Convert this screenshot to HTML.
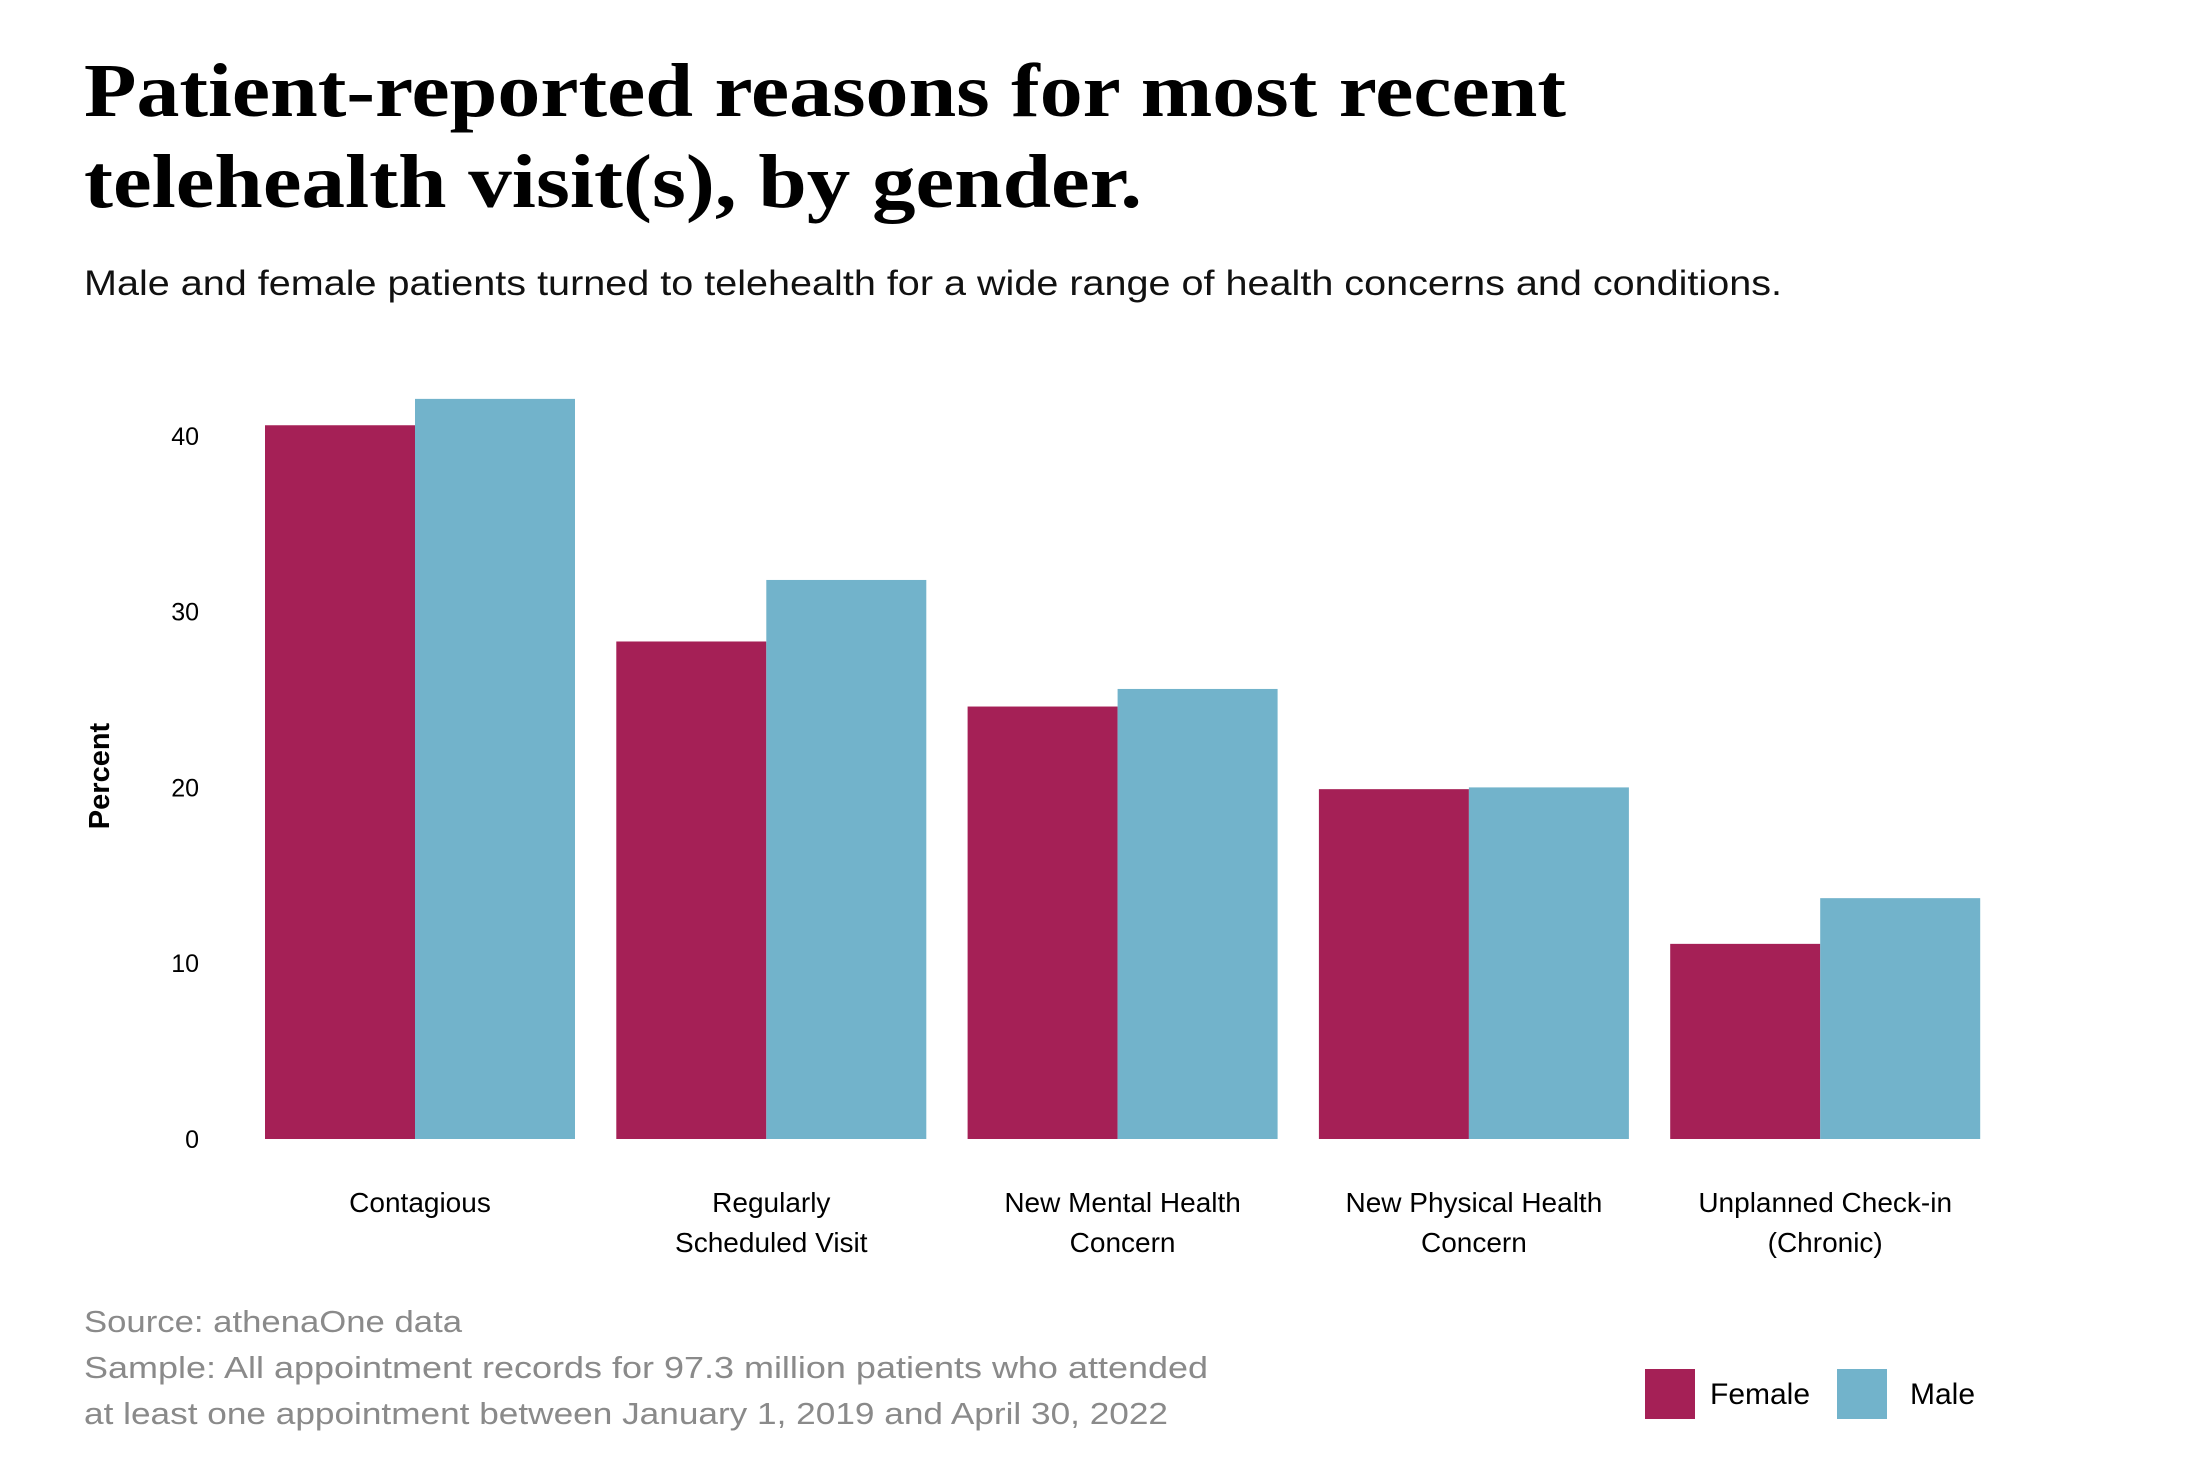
<!DOCTYPE html>
<html><head><meta charset="utf-8"><style>
body{margin:0;background:#fff}
svg{display:block}
</style></head><body>
<svg width="2209" height="1465" viewBox="0 0 2209 1465" xmlns="http://www.w3.org/2000/svg">
<text font-family="Liberation Serif, serif" font-weight="bold" font-size="76" fill="#000">
<tspan x="84" y="116" textLength="1482" lengthAdjust="spacingAndGlyphs">Patient-reported reasons for most recent</tspan>
<tspan x="84" y="207" textLength="1058" lengthAdjust="spacingAndGlyphs">telehealth visit(s), by gender.</tspan></text>
<text x="84" y="295" font-family="Liberation Sans, sans-serif" font-size="35" fill="#111" textLength="1698" lengthAdjust="spacingAndGlyphs">Male and female patients turned to telehealth for a wide range of health concerns and conditions.</text>
<text transform="translate(109,776) rotate(-90)" text-anchor="middle" font-family="Liberation Sans, sans-serif" font-weight="bold" font-size="29" fill="#000">Percent</text>
<g id="yticks"></g>
<g id="bars"></g>
<g id="xlabels"></g>
<g font-family="Liberation Sans, sans-serif" font-size="31" fill="#8a8a8a">
<text x="84" y="1332" textLength="378" lengthAdjust="spacingAndGlyphs">Source: athenaOne data</text>
<text x="84" y="1378" textLength="1124" lengthAdjust="spacingAndGlyphs">Sample: All appointment records for 97.3 million patients who attended</text>
<text x="84" y="1424" textLength="1084" lengthAdjust="spacingAndGlyphs">at least one appointment between January 1, 2019 and April 30, 2022</text>
</g>
<g>
<rect x="1645" y="1369" width="50" height="50" fill="#a52056"/>
<text x="1710" y="1404" font-family="Liberation Sans, sans-serif" font-size="30" fill="#000">Female</text>
<rect x="1837" y="1369" width="50" height="50" fill="#72b3cb"/>
<text x="1910" y="1404" font-family="Liberation Sans, sans-serif" font-size="30" fill="#000">Male</text>
</g>
</svg>
<script>
const categories=[["Contagious"],["Regularly","Scheduled Visit"],["New Mental Health","Concern"],["New Physical Health","Concern"],["Unplanned Check-in","(Chronic)"]];
const femaleValues=[40.6,28.3,24.6,19.9,11.1];
const maleValues=[42.1,31.8,25.6,20.0,13.7];
const yTicks=[0,10,20,30,40];
const NS="http://www.w3.org/2000/svg";
const y0=1139, unit=17.58;
function yScale(v){return y0-v*unit;}
function xGroup(i){return 265+i*351.3;}
const fw=150, mw=160;
const yt=document.getElementById('yticks');
yTicks.forEach(t=>{
 const e=document.createElementNS(NS,'text');
 
 
 e.setAttribute('x',199);e.setAttribute('y',yScale(t)+9);
 e.setAttribute('text-anchor','end');e.setAttribute('font-family','Liberation Sans, sans-serif');
 e.setAttribute('font-size','25');e.textContent=t;yt.appendChild(e);
});
const bg=document.getElementById('bars');
const xl=document.getElementById('xlabels');
categories.forEach((c,i)=>{
 const x=xGroup(i);
 const f=document.createElementNS(NS,'rect');
 
 
 f.setAttribute('x',x);f.setAttribute('width',fw);f.setAttribute('y',yScale(femaleValues[i]));
 f.setAttribute('height',femaleValues[i]*unit);f.setAttribute('fill','#a52056');bg.appendChild(f);
 const m=document.createElementNS(NS,'rect');
 
 
 m.setAttribute('x',x+fw);m.setAttribute('width',mw);m.setAttribute('y',yScale(maleValues[i]));
 m.setAttribute('height',maleValues[i]*unit);m.setAttribute('fill','#72b3cb');bg.appendChild(m);
 const t=document.createElementNS(NS,'text');
 
 
 t.setAttribute('text-anchor','middle');t.setAttribute('font-family','Liberation Sans, sans-serif');t.setAttribute('font-size','28');
 c.forEach((line,j)=>{const s=document.createElementNS(NS,'tspan');s.setAttribute('x',x+(fw+mw)/2);s.setAttribute('y',1212+j*40);s.textContent=line;t.appendChild(s);});
 xl.appendChild(t);
});
</script>
</body></html>
